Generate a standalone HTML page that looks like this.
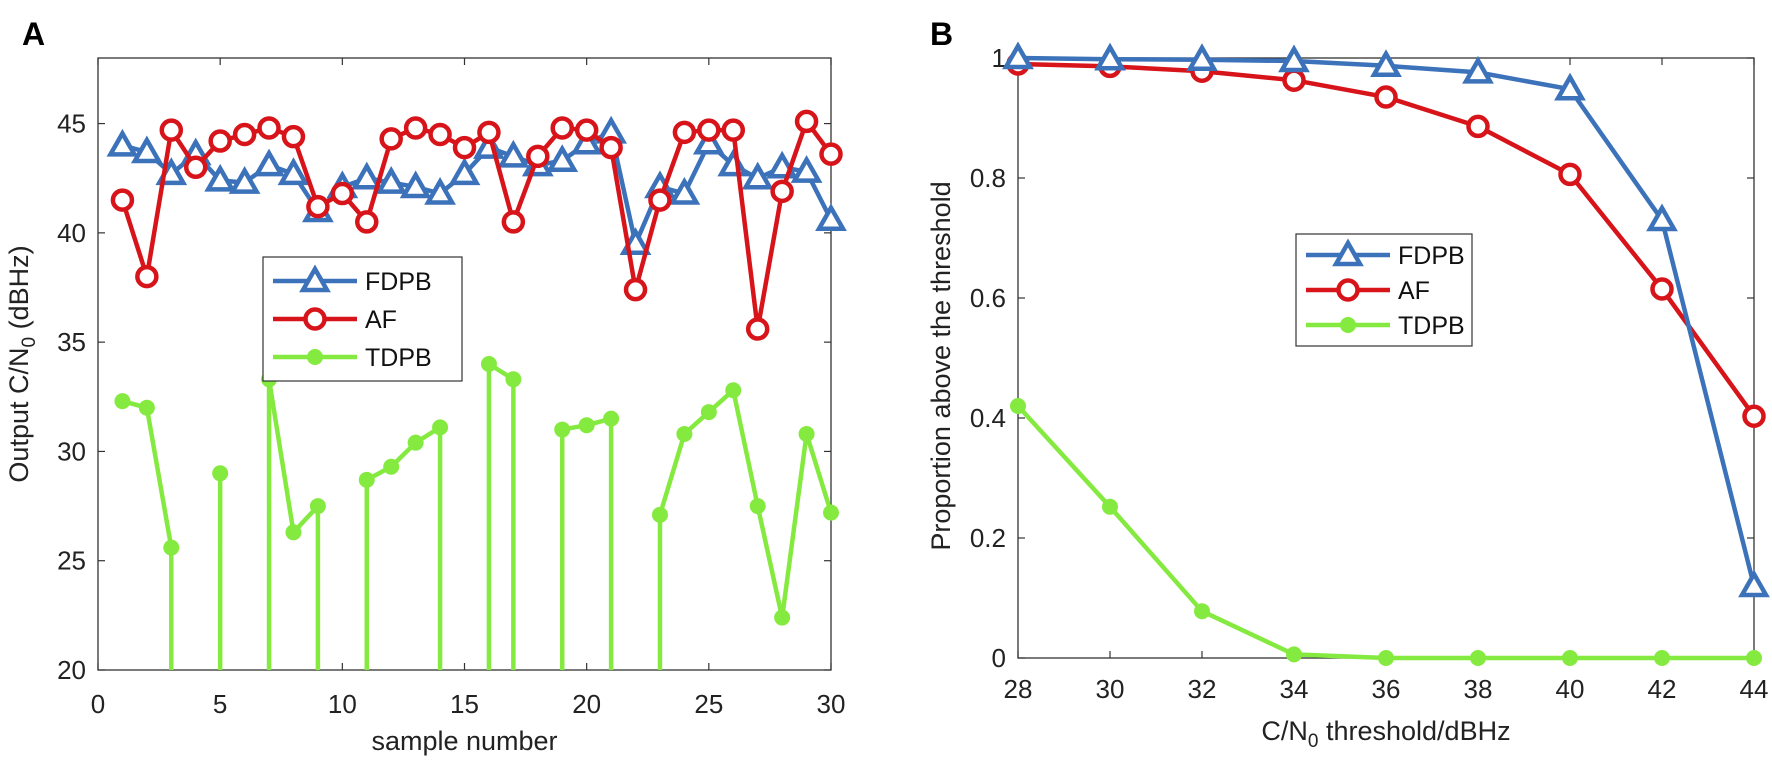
<!DOCTYPE html>
<html><head><meta charset="utf-8">
<style>
html,body{margin:0;padding:0;background:#fff;}
svg{display:block;font-family:"Liberation Sans",Arial,sans-serif;}
</style></head>
<body>
<svg id="fig" width="1772" height="761" viewBox="0 0 1772 761" xmlns="http://www.w3.org/2000/svg">
<text x="22" y="45" font-size="32" font-weight="bold">A</text>
<text x="930" y="45" font-size="32" font-weight="bold">B</text>
<g id="pa"></g>
<g id="pb"></g>
</svg>
<script>
// Panel A data
const sampleNumbers = [1,2,3,4,5,6,7,8,9,10,11,12,13,14,15,16,17,18,19,20,21,22,23,24,25,26,27,28,29,30];
const fdpbA = [44.0,43.7,42.7,43.6,42.4,42.3,43.1,42.7,41.0,42.1,42.5,42.3,42.1,41.8,42.7,43.9,43.5,43.1,43.3,44.1,44.6,39.5,42.1,41.8,44.1,43.1,42.5,43.0,42.8,40.6];
const afA = [41.5,38.0,44.7,43.0,44.2,44.5,44.8,44.4,41.2,41.8,40.5,44.3,44.8,44.5,43.9,44.6,40.5,43.5,44.8,44.7,43.9,37.4,41.5,44.6,44.7,44.7,35.6,41.9,45.1,43.6];
const tdpbA = [32.3,32.0,25.6,null,29.0,null,33.3,26.3,27.5,null,28.7,29.3,30.4,31.1,null,34.0,33.3,null,31.0,31.2,31.5,null,27.1,30.8,31.8,32.8,27.5,22.4,30.8,27.2];
const xTicksA = [0,5,10,15,20,25,30];
const yTicksA = [20,25,30,35,40,45];
// Panel B data
const thresholds = [28,30,32,34,36,38,40,42,44];
const fdpbB = [1.0,0.998,0.997,0.995,0.987,0.976,0.948,0.73,0.12];
const afB = [0.99,0.986,0.978,0.963,0.935,0.886,0.806,0.615,0.403];
const tdpbB = [0.42,0.252,0.078,0.006,0,0,0,0,0];
const xTicksB = [28,30,32,34,36,38,40,42,44];
const yTicksB = [0,0.2,0.4,0.6,0.8,1];

const NS="http://www.w3.org/2000/svg";
const BLUE="#3b72b9", RED="#d7141a", GREEN="#85ea3f";
function mk(parent,tag,attrs){const e=document.createElementNS(NS,tag);for(const k in attrs)e.setAttribute(k,attrs[k]);parent.appendChild(e);return e;}

function axesBox(g,L,T,R,B,xt,yt,sx,sy,yfmt,xoff){
  const box=mk(g,'rect',{x:L,y:T,width:R-L,height:B-T,fill:'none',stroke:'#333','stroke-width':1.3});
  
  
  xt.forEach(v=>{
    const x=sx(v);
    mk(g,'line',{x1:x,y1:B,x2:x,y2:B-7,stroke:'#333','stroke-width':1.2});
    mk(g,'line',{x1:x,y1:T,x2:x,y2:T+7,stroke:'#333','stroke-width':1.2});
    const t=mk(g,'text',{x:x,y:B+xoff,'font-size':26,'text-anchor':'middle',fill:'#222'});
    t.textContent=v;
    
    
  });
  yt.forEach(v=>{
    const y=sy(v);
    mk(g,'line',{x1:L,y1:y,x2:L+7,y2:y,stroke:'#333','stroke-width':1.2});
    mk(g,'line',{x1:R,y1:y,x2:R-7,y2:y,stroke:'#333','stroke-width':1.2});
    const t=mk(g,'text',{x:L-12,y:y+9,'font-size':26,'text-anchor':'end',fill:'#222'});
    t.textContent=yfmt(v);
    
    
  });
}
function triangle(g,x,y){
  const p=mk(g,'polygon',{points:`${x},${y-12} ${x-12},${y+9} ${x+12},${y+9}`,fill:'#fff',stroke:BLUE,'stroke-width':4.5,'stroke-linejoin':'miter'});
  
  
}
function circ(g,x,y){
  const c=mk(g,'circle',{cx:x,cy:y,r:9.5,fill:'#fff',stroke:RED,'stroke-width':4.5});
  
  
}
function dot(g,x,y){
  const c=mk(g,'circle',{cx:x,cy:y,r:8,fill:GREEN});
  
  
}
function legend(g,x,y,w,h,sp){
  const r=mk(g,'rect',{x:x,y:y,width:w,height:h,fill:'#fff',stroke:'#333','stroke-width':1.2});
  
  
  const rows=[['FDPB',BLUE,triangle],['AF',RED,circ],['TDPB',GREEN,dot]];
  rows.forEach((rw,i)=>{
    const yy=y+h/2+(i-1)*sp;
    const ln=mk(g,'line',{x1:x+10,y1:yy,x2:x+94,y2:yy,stroke:rw[1],'stroke-width':4.5});
    
    
    rw[2](g,x+52,yy);
    const t=mk(g,'text',{x:x+102,y:yy+9,'font-size':25,fill:'#111'});
    t.textContent=rw[0];
    
    
  });
}

// Panel A
(function(){
  const g=document.getElementById('pa');
  const L=98,R=831,T=58,B=670;
  const sx=v=>L+(v-0)/30*(R-L);
  const sy=v=>B-(v-20)/28*(B-T);
  axesBox(g,L,T,R,B,xTicksA,yTicksA,sx,sy,v=>v,43);
  const gd=mk(g,'g',{});
  
  
  let d='';
  for(let i=0;i<sampleNumbers.length;i++){
    const v=tdpbA[i], x=sx(sampleNumbers[i]);
    if(v===null) continue;
    const prev=i>0?tdpbA[i-1]:0, next=i<tdpbA.length-1?tdpbA[i+1]:0;
    if(i===0) d+=`M${x},${sy(v)}`;
    else if(prev===null) d+=`M${x},${B}L${x},${sy(v)}`;
    else d+=`L${x},${sy(v)}`;
    if(i<tdpbA.length-1 && next===null) d+=`L${x},${B}`;
  }
  mk(gd,'path',{d:d,fill:'none',stroke:GREEN,'stroke-width':4.5,'stroke-linejoin':'round'});
  sampleNumbers.forEach((n,i)=>{ if(tdpbA[i]!==null) dot(gd,sx(n),sy(tdpbA[i])); });
  const gb=mk(g,'g',{});
  
  
  mk(gb,'polyline',{points:sampleNumbers.map((n,i)=>sx(n)+','+sy(fdpbA[i])).join(' '),fill:'none',stroke:BLUE,'stroke-width':4.5});
  sampleNumbers.forEach((n,i)=>triangle(gb,sx(n),sy(fdpbA[i])));
  const gr=mk(g,'g',{});
  
  
  mk(gr,'polyline',{points:sampleNumbers.map((n,i)=>sx(n)+','+sy(afA[i])).join(' '),fill:'none',stroke:RED,'stroke-width':4.5});
  sampleNumbers.forEach((n,i)=>circ(gr,sx(n),sy(afA[i])));
  legend(g,263,257,199,124,38);
  const xt=mk(g,'text',{x:(L+R)/2,y:750,'font-size':27,'text-anchor':'middle',fill:'#222'});
  xt.textContent='sample number';
  
  
  const yt=mk(g,'text',{transform:`translate(28,${(T+B)/2}) rotate(-90)`,'font-size':27,'text-anchor':'middle',fill:'#222'});
  yt.innerHTML='Output C/N<tspan font-size="19" dy="7">0</tspan><tspan dy="-7"> (dBHz)</tspan>';
  
  
})();

// Panel B
(function(){
  const g=document.getElementById('pb');
  const L=1018,R=1754,T=58,B=658;
  const sx=v=>L+(v-28)/16*(R-L);
  const sy=v=>B-v*(B-T);
  axesBox(g,L,T,R,B,xTicksB,yTicksB,sx,sy,v=>String(v),40);
  const series=[[tdpbB,GREEN,dot,'tdpb-series'],[afB,RED,circ,'af-series'],[fdpbB,BLUE,triangle,'fdpb-series']];
  series.forEach(s=>{
    const gs=mk(g,'g',{});
    
    
    mk(gs,'polyline',{points:thresholds.map((t,i)=>sx(t)+','+sy(s[0][i])).join(' '),fill:'none',stroke:s[1],'stroke-width':4.5});
    thresholds.forEach((t,i)=>s[2](gs,sx(t),sy(s[0][i])));
  });
  legend(g,1296,234,176,112,35);
  const xt=mk(g,'text',{x:(L+R)/2,y:740,'font-size':27,'text-anchor':'middle',fill:'#222'});
  xt.innerHTML='C/N<tspan font-size="19" dy="7">0</tspan><tspan dy="-7"> threshold/dBHz</tspan>';
  
  
  const yt=mk(g,'text',{transform:`translate(950,${(T+B)/2+8}) rotate(-90)`,'font-size':27,'text-anchor':'middle',fill:'#222'});
  yt.textContent='Proportion above the threshold';
  
  
})();
</script>
</body></html>
